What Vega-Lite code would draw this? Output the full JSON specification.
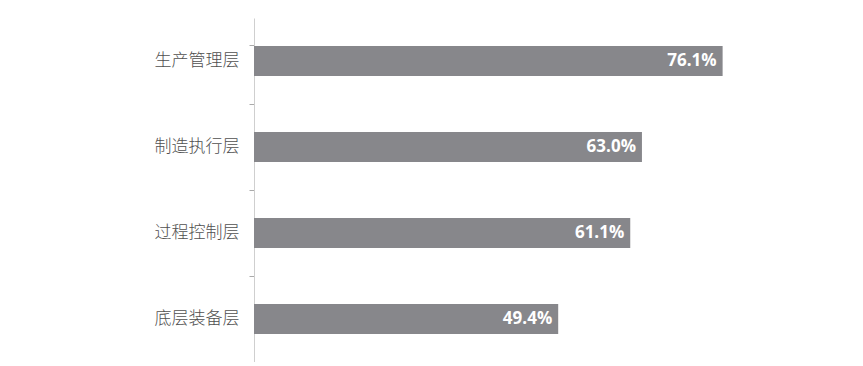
{
  "$schema": "https://vega.github.io/schema/vega-lite/v6.json",
  "autosize": {"type": "none"},
  "padding": {"left": 254, "top": 18, "right": 0, "bottom": 0},
  "width": 585,
  "height": 344,
  "background": "white",
  "config": {"view": {"stroke": null}},
  "data": {"values": [
    {"level": "生产管理层", "pct": 76.1, "label": "76.1%"},
    {"level": "制造执行层", "pct": 63.0, "label": "63.0%"},
    {"level": "过程控制层", "pct": 61.1, "label": "61.1%"},
    {"level": "底层装备层", "pct": 49.4, "label": "49.4%"}
  ]},
  "encoding": {
    "y": {"field": "level", "type": "nominal", "sort": null,
      "scale": {"paddingInner": 0.65, "paddingOuter": 0.325},
      "axis": {"title": null, "bandPosition": 1.93, "tickExtra": true, "ticks": true, "domainColor": "#cfcfcf", "tickColor": "#aaaaaa", "tickSize": 5, "tickWidth": 1,
        "labelFont": "Noto Sans CJK SC", "labelFontWeight": 300, "labelFontSize": 17, "labelColor": "#505050", "labelPadding": 10}},
    "x": {"field": "pct", "type": "quantitative", "scale": {"domain": [0, 95], "nice": false}, "axis": null}
  },
  "layer": [
    {"mark": {"type": "bar", "color": "#87878b"}},
    {"mark": {"type": "text", "align": "right", "dx": -6, "color": "white", "font": "Open Sans", "fontWeight": "bold", "fontSize": 17},
     "encoding": {"text": {"field": "label", "type": "nominal"}}}
  ]
}
